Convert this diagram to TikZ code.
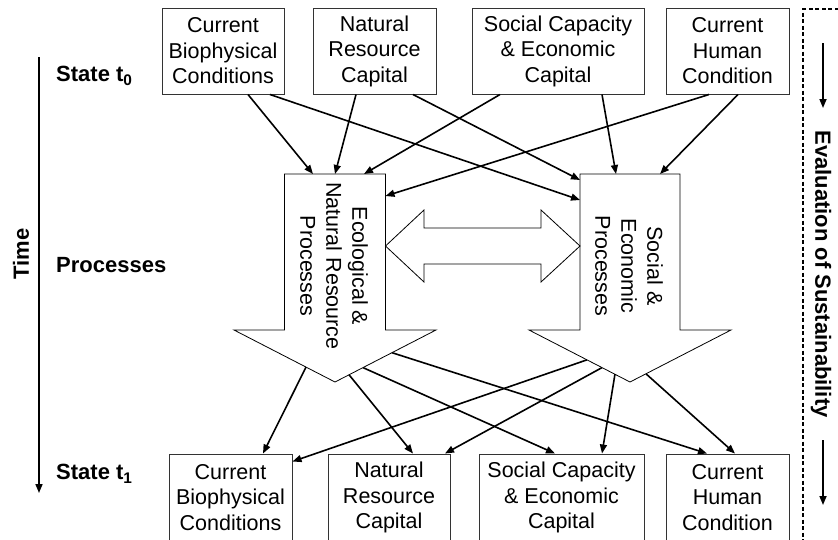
\documentclass[tikz,border=0pt]{standalone}
\usepackage{fontspec}
\setmainfont{Liberation Sans}
\usetikzlibrary{arrows.meta,calc}
\begin{document}
\begin{tikzpicture}[x=1pt,y=-1pt,
  box/.style={draw=black!80, line width=1pt, align=center, inner sep=0pt,
    font=\fontsize{21.5pt}{25.5pt}\selectfont},
  conn/.style={line width=1.6pt, -{Triangle[length=9pt,width=7pt]}},
  fat/.style={draw=black, line width=0.8pt, fill=white},
  lbl/.style={font=\bfseries\fontsize{22pt}{26pt}\selectfont, inner sep=0pt},
  proc/.style={align=center, rotate=-90, inner sep=0pt,
    font=\fontsize{21.5pt}{26pt}\selectfont},
  dashbox/.style={line width=1.2pt, dash pattern=on 4pt off 2.5pt}]
\useasboundingbox (0,0) rectangle (838,539);

% ---- top boxes (state t0)
\node[box, minimum width=122pt, minimum height=86pt] (t1) at (223,51) {Current\\Biophysical\\Conditions};
\node[box, minimum width=123pt, minimum height=86pt] (t2) at (374.5,51) {Natural\\Resource\\Capital};
\node[box, minimum width=172pt, minimum height=86pt] (t3) at (558,51) {Social Capacity\\\& Economic\\Capital};
\node[box, minimum width=123pt, minimum height=86pt] (t4) at (727.5,51) {Current\\Human\\Condition};

% ---- bottom boxes (state t1)
\node[box, minimum width=123pt, minimum height=87pt] (b1) at (230.5,497.5) {Current\\Biophysical\\Conditions};
\node[box, minimum width=122pt, minimum height=87pt] (b2) at (389,497.5) {Natural\\Resource\\Capital};
\node[box, minimum width=165pt, minimum height=87pt] (b3) at (561.5,497.5) {Social Capacity\\\& Economic\\Capital};
\node[box, minimum width=123pt, minimum height=87pt] (b4) at (727.5,497.5) {Current\\Human\\Condition};

% ---- fat process arrows
\coordinate (Ltop) at (335,174);
\coordinate (LTR) at (385.5,174);
\coordinate (Lwl) at (234,330);
\coordinate (Lwr) at (436,330);
\coordinate (Ltip) at (335,382);
\path[fat] (284.5,174) -- (LTR) -- (385.5,330) -- (Lwr) -- (Ltip) -- (Lwl) -- (284.5,330) -- cycle;

\coordinate (Rtop) at (630,174);
\coordinate (RTL) at (580,174);
\coordinate (Rwl) at (529,330);
\coordinate (Rwr) at (731,330);
\coordinate (Rtip) at (630,382);
\path[fat] (RTL) -- (680,174) -- (680,330) -- (Rwr) -- (Rtip) -- (Rwl) -- (580,330) -- cycle;

\node[proc] (ltext) at (334,266) {Ecological \&\\Natural Resource\\Processes};
\node[proc] (rtext) at (629,266) {Social \&\\Economic\\Processes};

% ---- double arrow between processes
\path[fat] (385.5,246) -- (424,210) -- (424,228) -- (541,228) -- (541,210) -- (580,246)
  -- (541,282) -- (541,264) -- (424,264) -- (424,282) -- cycle;

% ---- connectors: state t0 -> processes
\draw[conn] ([xshift=25pt]t1.south) -- ([xshift=-22pt]Ltop);
\draw[conn] ([xshift=47pt]t1.south) -- ([yshift=-26pt]RTL);
\draw[conn] ([xshift=-18.5pt]t2.south) -- (Ltop);
\draw[conn] ([xshift=38.5pt]t2.south) -- ([yshift=-6pt]RTL);
\draw[conn] ([xshift=-58pt]t3.south) -- ([xshift=29pt]Ltop);
\draw[conn] ([xshift=44pt]t3.south) -- ([xshift=-14pt]Rtop);
\draw[conn] ([xshift=-18.5pt]t4.south) -- ([yshift=-22pt]LTR);
\draw[conn] ([xshift=10.5pt]t4.south) -- ([xshift=30pt]Rtop);

% ---- connectors: processes -> state t1
\draw[conn] ($(Lwl)!0.713!(Ltip)$) -- ([xshift=32.5pt]b1.north);
\draw[conn] ($(Lwr)!0.861!(Ltip)$) -- ([xshift=24pt]b2.north);
\draw[conn] ($(Lwr)!0.723!(Ltip)$) -- ([xshift=-6.5pt]b3.north);
\draw[conn] ($(Lwr)!0.436!(Ltip)$) -- ([xshift=-20.5pt]b4.north);
\draw[conn] ($(Rwl)!0.574!(Rtip)$) -- ([yshift=-8pt]b1.north east);
\draw[conn] ($(Rwl)!0.723!(Rtip)$) -- ([xshift=56pt]b2.north);
\draw[conn] ($(Rwl)!0.851!(Rtip)$) -- ([xshift=40.5pt]b3.north);
\draw[conn] ($(Rwr)!0.842!(Rtip)$) -- ([xshift=7.5pt]b4.north);

% ---- time axis and labels
\coordinate (ts) at (39,57);
\coordinate (te) at (39,493);
\draw[conn] (ts) -- (te);
\node[lbl, rotate=90] (time) at (21,254) {Time};
\node[lbl, anchor=west] (s0) at (56,76) {State t\textsubscript{0}};
\node[lbl, anchor=west] (pr) at (56,265) {Processes};
\node[lbl, anchor=west] (s1) at (56,474) {State t\textsubscript{1}};

% ---- evaluation of sustainability
\draw[dashbox] (845,9) -- (803,9) -- (803,545);
\coordinate (e1s) at (823,43);
\coordinate (e1e) at (823,108);
\coordinate (e2s) at (823,440);
\coordinate (e2e) at (823,505);
\draw[conn] (e1s) -- (e1e);
\draw[conn] (e2s) -- (e2e);
\node[lbl, rotate=-90] (eval) at (821,274) {Evaluation of Sustainability};
\end{tikzpicture}
\end{document}
